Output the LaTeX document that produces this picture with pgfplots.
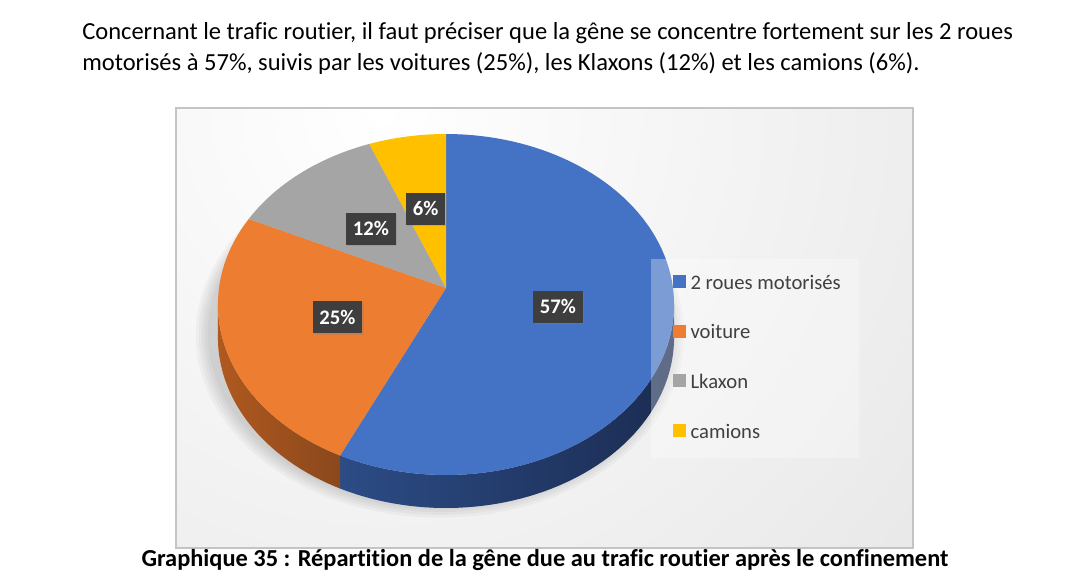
\documentclass[border=0pt]{standalone}
\usepackage{pgfplots}
\pgfplotsset{compat=1.18}
\usepackage{pgfplotstable}
\usepackage{fontspec}
\setmainfont[Ligatures=CommonOff]{Carlito}
\usetikzlibrary{shadows}

\definecolor{pie0}{HTML}{4472C4}
\definecolor{pie1}{HTML}{ED7D31}
\definecolor{pie2}{HTML}{A5A5A5}
\definecolor{pie3}{HTML}{FFC000}
\definecolor{sideL0}{HTML}{2C4C86}
\definecolor{sideR0}{HTML}{1B2C52}
\definecolor{sideL1}{HTML}{B0591F}
\definecolor{sideR1}{HTML}{8A481C}
\definecolor{sideL2}{HTML}{7C7C7C}
\definecolor{sideR2}{HTML}{6A6A6A}
\definecolor{sideL3}{HTML}{BF9000}
\definecolor{sideR3}{HTML}{A07800}
\definecolor{bgB}{HTML}{CBCBCB}
\definecolor{bord}{HTML}{C4C4C4}
\definecolor{lblbg}{HTML}{3E3E3E}
\definecolor{legtext}{HTML}{404040}

% share of the nuisance from road traffic (%)
\pgfplotstableread[col sep=comma]{
label,value
2 roues motorisés,57
voiture,25
Lkaxon,12
camions,6
}\pietable

% start/end angles of each slice, clockwise from 12 o'clock
\def\acc{0}
\pgfplotsforeachungrouped \i in {0,...,3}{%
  \pgfplotstablegetelem{\i}{value}\of\pietable
  \let\val\pgfplotsretval
  \pgfmathsetmacro\tA{3.6*\acc}%
  \pgfmathsetmacro\acc{\acc+\val}%
  \pgfmathsetmacro\tB{3.6*\acc}%
  \pgfmathsetmacro\tM{(\tA+\tB)/2}%
  \pgfmathsetmacro\sA{max(\tA,95.56)}%
  \pgfmathsetmacro\sB{min(\tB,264.44)}%
  \pgfmathtruncatemacro\hasside{\sB>\sA ? 1 : 0}%
  \expandafter\xdef\csname pieA\i\endcsname{\tA}%
  \expandafter\xdef\csname pieB\i\endcsname{\tB}%
  \expandafter\xdef\csname pieM\i\endcsname{\tM}%
  \expandafter\xdef\csname sideA\i\endcsname{\sA}%
  \expandafter\xdef\csname sideB\i\endcsname{\sB}%
  \expandafter\xdef\csname hasSide\i\endcsname{\hasside}%
  \pgfmathtruncatemacro\vv{\val}%
  \expandafter\xdef\csname pieV\i\endcsname{\vv}%
}

\begin{document}
\begin{tikzpicture}[declare function={
    px(\q,\w)=446+227*\w*sin(\q)/(1+0.0968*\w*cos(\q));
    py(\q,\w)=288-168.9*\w*cos(\q)/(1+0.0968*\w*cos(\q));}]
\begin{axis}[
    width=810pt, height=441pt,
    scale only axis,
    xmin=0, xmax=1080,
    ymin=0, ymax=588,
    y dir=reverse,
    hide axis,
    clip=false,
    legend style={
        at={(axis description cs:0.62315,0.53231)},
        anchor=north west,
        draw=none, fill=none,
        inner sep=0pt, outer sep=0pt,
        row sep=23.5pt,
        font=\fontsize{15.5}{15.5}\selectfont,
        text=legtext,
        nodes={inner sep=0pt, text height=9pt, text depth=3pt},
        /tikz/every odd column/.append style={column sep=3.75pt},
    },
    legend cell align=left,
]
% page and chart area
\fill[white] (0,0) rectangle (1080,588);
\begin{scope}
  \clip (176,108) rectangle (913,548);
  \shade[inner color=white, outer color=bgB] (380,110) circle[radius=1600];
\end{scope}
\draw[bord, line width=0.9pt] (176,108) rectangle (913,548);

% soft shadow under the pie
\pgfplotsinvokeforeach{16,13,10,7,4}{%
  \fill[black, opacity=0.03]
    plot[domain=0:360, samples=120] ({px(\x,1+#1/227)-6},{py(\x,1+#1/227)+28}) -- cycle;
}

% sides of the slices that face the viewer
\pgfplotsinvokeforeach{0,...,3}{%
  \ifnum\csname hasSide#1\endcsname=1
    \shade[left color=sideL#1, right color=sideR#1]
      plot[domain=\csname sideA#1\endcsname:\csname sideB#1\endcsname, samples=60] ({px(\x,1)},{py(\x,1)})
      -- plot[domain=\csname sideB#1\endcsname:\csname sideA#1\endcsname, samples=60] ({px(\x,1)},{py(\x,1)+33})
      -- cycle;
  \fi
}

% top faces
\pgfplotsinvokeforeach{0,...,3}{%
  \fill[pie#1] (446,288)
    -- plot[domain=\csname pieA#1\endcsname:\csname pieB#1\endcsname, samples=90] ({px(\x,1)},{py(\x,1)})
    -- cycle;
}

% legend backdrop
\fill[white, opacity=0.3] (651,259) rectangle (859,458);

% value labels
\pgfplotsinvokeforeach{0,...,3}{%
  \node[fill=lblbg, text=white, inner xsep=5pt, minimum height=24pt,
        font=\bfseries\fontsize{15.5}{15.5}\selectfont,
        drop shadow={shadow xshift=1.2pt, shadow yshift=-1.2pt, opacity=0.3}]
    at ({px(\csname pieM#1\endcsname,0.5)},{py(\csname pieM#1\endcsname,0.5)})
    {\csname pieV#1\endcsname\%};
}

% legend
\pgfplotsinvokeforeach{0,...,3}{%
  \addlegendimage{legend image code/.code={\fill[pie#1] (0pt,-1.5pt) rectangle (9pt,7.5pt);}}
  \pgfplotstablegetelem{#1}{label}\of\pietable
  \addlegendentryexpanded{\pgfplotsretval}
}

% surrounding text of the page
\node[anchor=base west, inner sep=0pt, font=\fontsize{18.4}{18.4}\selectfont] at (82,40)
  {Concernant le trafic routier, il faut préciser que la gêne se concentre fortement sur les 2 roues};
\node[anchor=base west, inner sep=0pt, font=\fontsize{18.4}{18.4}\selectfont] at (82,71)
  {motorisés à 57\%, suivis par les voitures (25\%), les Klaxons (12\%) et les camions (6\%).};
\node[anchor=base, inner sep=0pt, font=\bfseries\fontsize{18.3}{18.3}\selectfont] at (545,566)
  {Graphique 35 : Répartition de la gêne due au trafic routier après le confinement};
\end{axis}
\end{tikzpicture}
\end{document}
